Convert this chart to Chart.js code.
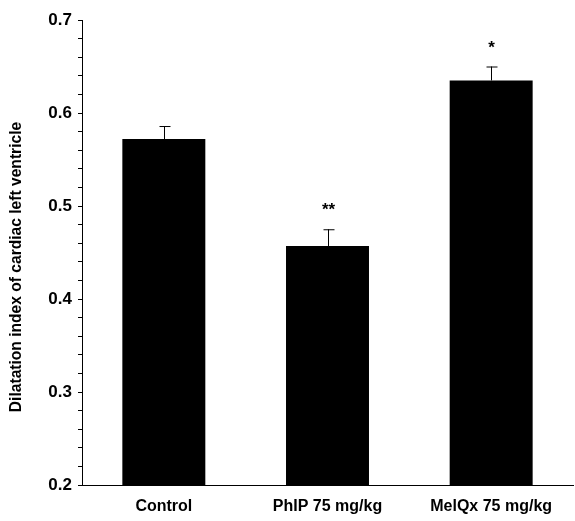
<!DOCTYPE html>
<html>
<head>
<meta charset="utf-8">
<script src="https://cdn.jsdelivr.net/npm/chart.js@4/dist/chart.umd.min.js"></script>
<style>
  html, body { margin: 0; padding: 0; background: #fff; }
  #wrap { width: 575px; height: 521px; }
</style>
</head>
<body>
<div id="wrap"><canvas id="chart"></canvas></div>
<script>
// ~~ DATA ~~
var groups = ["Control", "PhIP 75 mg/kg", "MelQx 75 mg/kg"];
var dilatation = [0.572, 0.457, 0.635];
var errUp = [0.014, 0.018, 0.015];
var marks = ["", "**", "*"];
var yTitle = "Dilatation index of cardiac left ventricle";

var FONT = "'Liberation Sans', Arial, sans-serif";

// ~~ ERROR BARS + SIGNIFICANCE + Y TITLE ~~
var errorBars = {
  id: "errorBars",
  afterDatasetsDraw: function(chart) {
    var ctx = chart.ctx;
    var y = chart.scales.y;
    var meta = chart.getDatasetMeta(0);
    ctx.save();
    ctx.strokeStyle = "#000";
    ctx.lineWidth = 1;
    meta.data.forEach(function(bar, i) {
      var top = y.getPixelForValue(dilatation[i] + errUp[i]);
      var x = Math.round(bar.x) + 0.5;
      ctx.beginPath();
      ctx.moveTo(x, bar.y);
      ctx.lineTo(x, top);
      ctx.moveTo(x - 5, top + 0.5);
      ctx.lineTo(x + 6, top + 0.5);
      ctx.stroke();
      if (marks[i]) {
        ctx.fillStyle = "#000";
        ctx.font = "bold 17px " + FONT;
        ctx.textAlign = "center";
        ctx.textBaseline = "bottom";
        ctx.fillText(marks[i], x, top - 10);
      }
    });

    // axis title, a bit lower than the plot centre like the figure
    ctx.translate(17, 267);
    ctx.rotate(-Math.PI / 2);
    ctx.fillStyle = "#000";
    ctx.font = "bold 15.6px " + FONT;
    ctx.textAlign = "center";
    ctx.textBaseline = "middle";
    ctx.fillText(yTitle, 0, 0);
    ctx.restore();
  }
};

new Chart(document.getElementById("chart"), {
  type: "bar",
  data: {
    labels: groups,
    datasets: [{
      data: dilatation,
      backgroundColor: "#000",
      borderWidth: 0,
      barPercentage: 1.0,
      categoryPercentage: 0.507
    }]
  },
  options: {
    responsive: true,
    maintainAspectRatio: false,
    animation: false,
    layout: { padding: { left: 0, right: 2, top: 20, bottom: 0 } },
    plugins: {
      legend: { display: false },
      tooltip: { enabled: false }
    },
    scales: {
      x: {
        grid: { display: false, drawOnChartArea: false },
        border: { color: "#000", width: 1 },
        ticks: {
          color: "#000",
          padding: 4,
          font: { family: FONT, size: 16, weight: "bold" }
        },
        afterFit: function(scale) { scale.height = 36; }
      },
      y: {
        min: 0.2,
        max: 0.7,
        grid: { drawOnChartArea: false, tickLength: 4, color: "#000" },
        border: { color: "#000", width: 1 },
        ticks: {
          stepSize: 0.02,
          autoSkip: false,
          color: "#000",
          padding: 6,
          font: { family: FONT, size: 17, weight: "bold" },
          callback: function(v) {
            var k = Math.round(v * 100);
            return (k % 10 === 0) ? (k / 100).toFixed(1) : "";
          }
        },
        afterFit: function(scale) { scale.width = 82; }
      }
    }
  },
  plugins: [errorBars]
});
</script>
</body>
</html>
